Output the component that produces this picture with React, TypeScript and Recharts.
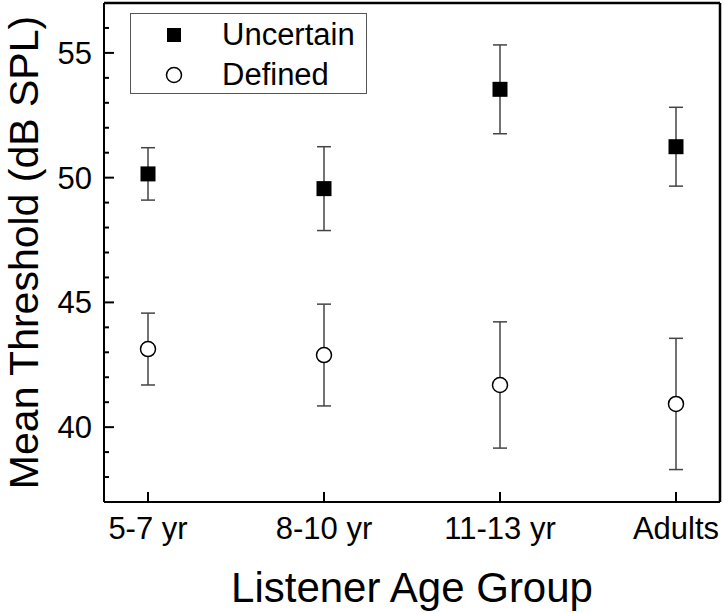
import {
  ErrorBar,
  Label,
  Legend,
  ReferenceLine,
  Scatter,
  ScatterChart,
  XAxis,
  YAxis,
} from "recharts";

const categories = ["5-7 yr", "8-10 yr", "11-13 yr", "Adults"];
const uncertainMean = [50.15, 49.56, 53.54, 51.24];
const uncertainErr = [1.05, 1.68, 1.78, 1.58];
const definedMean = [43.13, 42.89, 41.69, 40.93];
const definedErr = [1.44, 2.04, 2.53, 2.63];
const yTicks = [38, 39, 40, 41, 42, 43, 44, 45, 46, 47, 48, 49, 50, 51, 52, 53, 54, 55, 56];
const yMajor = [40, 45, 50, 55];

const FONT = "'Liberation Sans', Arial, sans-serif";

const uncertainData = categories.map((c, i) => ({ x: i, y: uncertainMean[i], err: uncertainErr[i], name: c }));
const definedData = categories.map((c, i) => ({ x: i, y: definedMean[i], err: definedErr[i], name: c }));

const Square = (p: any) => (
  <rect x={p.cx - 7.5} y={p.cy - 7.5} width={15} height={15} fill="#000" />
);
const Circle = (p: any) => (
  <circle cx={p.cx} cy={p.cy} r={7.5} fill="#fff" stroke="#000" strokeWidth={1.5} />
);

const YTick = (p: any) => {
  const v = p.payload.value;
  const major = yMajor.includes(v);
  const ax = p.x + 12;
  return (
    <g>
      <line x1={ax} x2={ax + (major ? 10 : 5)} y1={p.y} y2={p.y} stroke="#000" strokeWidth={2} />
      {major && (
        <text x={p.x} y={p.y} dy="0.355em" textAnchor="end" fontSize={31} fill="#000" fontFamily={FONT}>
          {v}
        </text>
      )}
    </g>
  );
};

const XTick = (p: any) => {
  const ay = p.y - 15;
  return (
    <g>
      <line x1={p.x} x2={p.x} y1={ay} y2={ay - 10} stroke="#000" strokeWidth={2} />
      <text x={p.x} y={p.y} dy="0.71em" textAnchor="middle" fontSize={31} fill="#000" fontFamily={FONT}>
        {categories[p.payload.value]}
      </text>
    </g>
  );
};

const YTitle = (p: any) => {
  const vb = p.viewBox || { x: 0, y: 3, width: 104, height: 499 };
  const x = vb.x + 38;
  const y = vb.y + vb.height / 2;
  return (
    <text x={x} y={y} transform={`rotate(-90, ${x}, ${y})`} textAnchor="middle" fontSize={41} fill="#000" fontFamily={FONT}>
      Mean Threshold (dB SPL)
    </text>
  );
};

const XTitle = (p: any) => {
  const vb = p.viewBox || { x: 104, y: 502, width: 616, height: 111 };
  return (
    <text x={vb.x + vb.width / 2} y={vb.y + 100} textAnchor="middle" fontSize={42} fill="#000" fontFamily={FONT}>
      Listener Age Group
    </text>
  );
};

const LegendBox = () => (
  <div
    style={{
      width: 235,
      height: 79,
      border: "1px solid #555",
      background: "#fff",
      fontFamily: FONT,
      fontSize: 31,
      color: "#000",
      position: "relative",
    }}
  >
    {[
      { label: "Uncertain", filled: true, top: 21 },
      { label: "Defined", filled: false, top: 61 },
    ].map((r) => (
      <div key={r.label} style={{ position: "absolute", left: 0, top: r.top - 20, height: 40, display: "flex", alignItems: "center" }}>
        <svg width={30} height={30} style={{ marginLeft: 28 }}>
          {r.filled ? (
            <rect x={8} y={8} width={14} height={14} fill="#000" />
          ) : (
            <circle cx={15} cy={15} r={7.5} fill="#fff" stroke="#000" strokeWidth={1.5} />
          )}
        </svg>
        <span style={{ marginLeft: 33, lineHeight: "40px" }}>{r.label}</span>
      </div>
    ))}
  </div>
);

export default function App() {
  return (
    <div style={{ position: "absolute", left: 0, top: 0, width: 724, height: 613, background: "#fff", fontFamily: FONT }}>
      <ScatterChart width={724} height={613} margin={{ top: 3, right: 4, left: 0, bottom: 0 }}>
        <XAxis
          type="number"
          dataKey="x"
          domain={[-0.25, 3.25]}
          ticks={[0, 1, 2, 3]}
          interval={0}
          allowDataOverflow
          height={111}
          tickSize={0}
          tickMargin={15}
          tickLine={false}
          tick={<XTick />}
          axisLine={{ stroke: "#000", strokeWidth: 2 }}
        >
          <Label content={<XTitle />} />
        </XAxis>
        <YAxis
          type="number"
          dataKey="y"
          domain={[37, 57]}
          ticks={yTicks}
          interval={0}
          allowDataOverflow
          width={104}
          tickSize={0}
          tickMargin={12}
          tickLine={false}
          tick={<YTick />}
          axisLine={{ stroke: "#000", strokeWidth: 2 }}
        >
          <Label content={<YTitle />} />
        </YAxis>
        <ReferenceLine y={57} stroke="#000" strokeWidth={2.5} />
        <ReferenceLine x={3.25} stroke="#000" strokeWidth={2.5} />
        <Legend
          layout="vertical"
          align="center"
          verticalAlign="middle"
          wrapperStyle={{ position: "absolute", left: 130, top: 13, width: 237, height: 81 }}
          content={<LegendBox />}
        />
        <Scatter name="Uncertain" data={uncertainData} shape={<Square />} isAnimationActive={false}>
          <ErrorBar dataKey="err" direction="y" width={7} stroke="#444" strokeWidth={1.5} isAnimationActive={false} />
        </Scatter>
        <Scatter name="Defined" data={definedData} shape={<Circle />} isAnimationActive={false}>
          <ErrorBar dataKey="err" direction="y" width={7} stroke="#444" strokeWidth={1.5} isAnimationActive={false} />
        </Scatter>
      </ScatterChart>
    </div>
  );
}
